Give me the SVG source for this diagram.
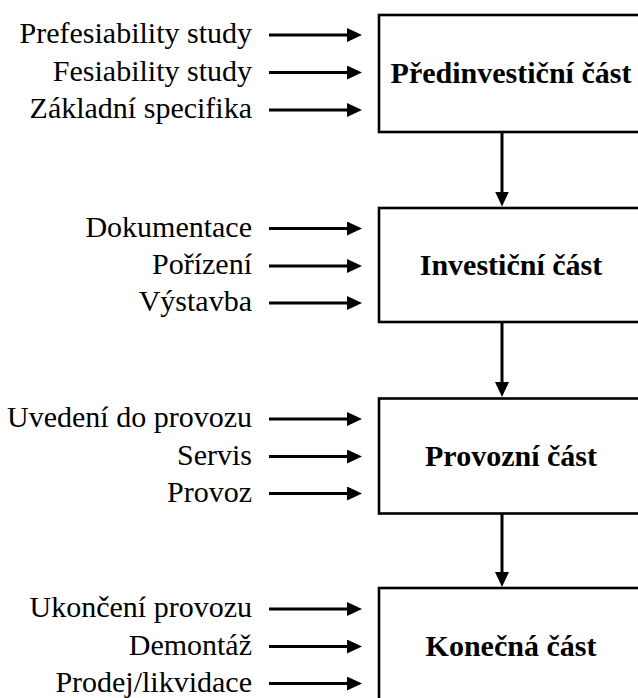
<svg xmlns="http://www.w3.org/2000/svg" width="638" height="698" viewBox="0 0 638 698">
<style>
.box{fill:#fff;stroke:#000;stroke-width:2.6}
.lbl{font-size:30px;fill:#000;text-anchor:end}
.ttl{font-size:30px;font-weight:bold;fill:#000;text-anchor:middle}
.con{stroke:#000;stroke-width:3;fill:none;marker-end:url(#ah)}
</style>
<defs>
<marker id="ah" markerUnits="userSpaceOnUse" markerWidth="15" markerHeight="14" refX="3" refY="7" orient="auto" viewBox="0 0 15 14">
<path d="M0,0 L15,7 L0,14 z" fill="#000"/>
</marker>
</defs>
<rect width="638" height="698" fill="#fff"/>
<g font-family="'Liberation Serif', 'Times New Roman', 'DejaVu Serif', serif">
<g id="node-predinvesticni">
<rect class="box" x="379" y="15" width="300" height="117"/>
<text class="ttl" x="511" y="83">Předinvestiční část</text>
</g>
<g id="node-investicni">
<rect class="box" x="379" y="208" width="300" height="114"/>
<text class="ttl" x="511" y="274.5">Investiční část</text>
</g>
<g id="node-provozni">
<rect class="box" x="379" y="398.5" width="300" height="115"/>
<text class="ttl" x="511" y="465.5">Provozní část</text>
</g>
<g id="node-konecna">
<rect class="box" x="379" y="588" width="300" height="140"/>
<text class="ttl" x="511" y="655.5">Konečná část</text>
</g>
<g id="labels">
<text class="lbl" x="252" y="43">Prefesiability study</text>
<text class="lbl" x="252" y="80.5">Fesiability study</text>
<text class="lbl" x="252" y="118">Základní specifika</text>
<text class="lbl" x="252" y="236.5">Dokumentace</text>
<text class="lbl" x="252" y="274">Pořízení</text>
<text class="lbl" x="252" y="311">Výstavba</text>
<text class="lbl" x="252" y="427">Uvedení do provozu</text>
<text class="lbl" x="252" y="464.5">Servis</text>
<text class="lbl" x="252" y="501.5">Provoz</text>
<text class="lbl" x="252" y="617">Ukončení provozu</text>
<text class="lbl" x="252" y="654.5">Demontáž</text>
<text class="lbl" x="252" y="691.5">Prodej/likvidace</text>
</g>
</g>
<g id="connectors">
<line class="con" x1="269" y1="35" x2="350" y2="35"/>
<line class="con" x1="269" y1="72.5" x2="350" y2="72.5"/>
<line class="con" x1="269" y1="110" x2="350" y2="110"/>
<line class="con" x1="269" y1="228.5" x2="350" y2="228.5"/>
<line class="con" x1="269" y1="266" x2="350" y2="266"/>
<line class="con" x1="269" y1="303" x2="350" y2="303"/>
<line class="con" x1="269" y1="419" x2="350" y2="419"/>
<line class="con" x1="269" y1="456.5" x2="350" y2="456.5"/>
<line class="con" x1="269" y1="493.5" x2="350" y2="493.5"/>
<line class="con" x1="269" y1="609" x2="350" y2="609"/>
<line class="con" x1="269" y1="646.5" x2="350" y2="646.5"/>
<line class="con" x1="269" y1="683.5" x2="350" y2="683.5"/>
<line class="con" x1="502" y1="133" x2="502" y2="194.5"/>
<line class="con" x1="502" y1="323" x2="502" y2="385"/>
<line class="con" x1="502" y1="514" x2="502" y2="575"/>
</g>
</svg>
